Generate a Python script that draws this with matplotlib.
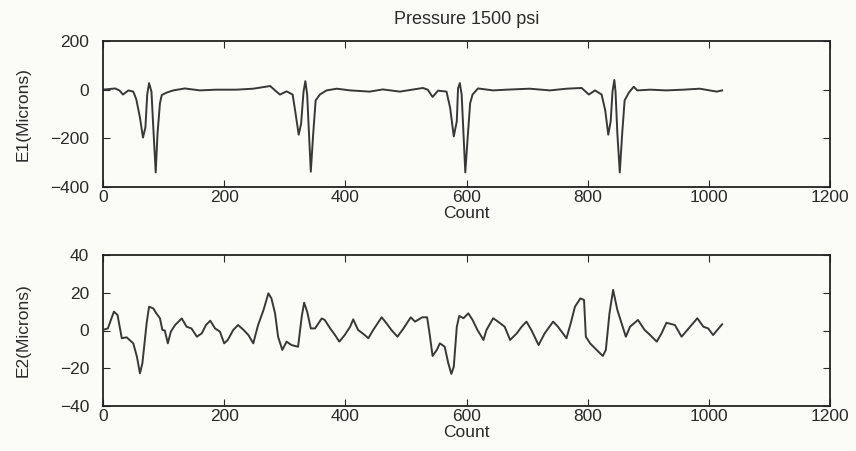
import numpy as np
import matplotlib
matplotlib.use("Agg")
import matplotlib.pyplot as plt

plt.rcParams['font.family'] = ['Liberation Sans', 'DejaVu Sans']

# E1 trace
e1_count = [0, 20, 27, 33, 42, 50, 55, 61, 66, 70, 73, 76, 80, 83, 87, 90, 94, 97,
            105, 116, 135, 160, 187, 220, 248, 276, 284, 292, 303, 313, 318, 323,
            327, 331, 334, 337, 340, 343, 347, 351, 358, 369, 386, 408, 440, 462,
            490, 528, 536, 544, 553, 567, 573, 579, 584, 586, 589, 592, 595, 598,
            602, 606, 610, 619, 644, 666, 704, 738, 765, 790, 802, 812, 823, 829,
            834, 838, 841, 844, 846, 849, 853, 857, 861, 868, 876, 882, 903, 930,
            958, 985, 1013, 1022]
e1_val = [0, 5, -3, -20, -3, -8, -40, -115, -197, -155, -20, 27, -8, -155, -340,
          -180, -56, -22, -12, -3, 5, -3, 0, 0, 4, 15, -3, -20, -7, -20, -100,
          -185, -140, -8, 35, -20, -180, -337, -180, -44, -20, -3, 4, -3, -8, 1,
          -8, 7, 0, -30, -4, -8, -75, -192, -130, 4, 27, -20, -180, -340, -195,
          -56, -20, 5, -3, 0, 4, -3, 4, 7, -20, -3, -20, -85, -185, -130, -8, 40,
          -8, -180, -340, -180, -44, -12, 12, -3, 0, -3, 0, 4, -8, -3]

# E2 trace
e2_count = [3, 8, 18, 24, 31, 39, 50, 56, 61, 65, 72, 76, 83, 88, 94, 98, 102, 107,
            112, 119, 130, 138, 146, 155, 163, 170, 177, 185, 193, 200, 206, 215,
            223, 232, 240, 248, 256, 265, 273, 278, 284, 289, 296, 303, 311, 322,
            328, 332, 337, 343, 350, 361, 366, 375, 383, 390, 399, 408, 413, 421,
            432, 438, 446, 460, 468, 476, 486, 496, 508, 515, 527, 535, 539, 544,
            551, 556, 564, 570, 575, 579, 584, 588, 595, 603, 610, 618, 628, 633,
            644, 652, 663, 672, 683, 691, 699, 707, 719, 729, 743, 751, 765, 772,
            779, 788, 794, 797, 804, 812, 825, 830, 836, 842, 849, 856, 863, 870,
            883, 894, 903, 914, 922, 930, 944, 955, 969, 981, 991, 999, 1007, 1014,
            1022]
e2_val = [0.6, 1.1, 10, 8.2, -4.1, -3.6, -6.8, -13.9, -22.7, -17.4, 3.8, 12.6,
          11.7, 9.1, 6.5, 0.3, 0, -6.8, -0.6, 2.9, 6.4, 2, 1.1, -3.3, -1.5, 2.9,
          5.2, 1.1, -0.6, -6.8, -5, 0.3, 2.9, 0.3, -2.4, -6.8, 2.9, 10.9, 19.7, 17,
          9.1, -3.3, -10.3, -5.9, -7.7, -8.6, 7.3, 14.7, 10, 1.1, 1.1, 6.4, 5.6,
          1.1, -2.4, -5.9, -2.4, 2, 5.9, 0.3, -2.4, -4.1, 0.3, 7, 3.8, 0.3, -3.3,
          1.1, 7, 4.7, 7, 7, -1.5, -13.5, -10.3, -6.8, -8.6, -17.4, -23, -19.2, 2,
          7.7, 6.5, 9.1, 5.6, 0.3, -5, 0.3, 6.5, 4.7, 2, -5, -1.5, 2, 4.7, 0.3,
          -7.7, -1.5, 4.7, 2, -4.1, 3.8, 12.6, 17, 16.2, -3.3, -6.8, -9.4, -13.5,
          -10.3, 9.1, 21.5, 10.9, 3.8, -3.3, 2, 5.6, 0.3, -2.4, -5.9, -1.5, 4.1,
          2.9, -3.3, 2, 6.5, 2, 1.1, -2.4, 0.3, 3.3]

x_ticks = [0, 200, 400, 600, 800, 1000, 1200]
line_col = "#383838"
txt_col = "#2a2a2a"
bg = "#fbfbf7"

fig = plt.figure(figsize=(8.56, 4.51), dpi=100, facecolor=bg)
ax1 = fig.add_axes([103 / 856, 1 - 187 / 451, 727 / 856, 146 / 451])
ax2 = fig.add_axes([103 / 856, 1 - 406 / 451, 727 / 856, 151 / 451])

ax1.plot(e1_count, e1_val, color=line_col, lw=1.4)
ax2.plot(e2_count, e2_val, color=line_col, lw=1.4)

ax1.set_ylim(-400, 200)
ax1.set_yticks([-400, -200, 0, 200])
ax2.set_ylim(-40, 40)
ax2.set_yticks([-40, -20, 0, 20, 40])

for ax in (ax1, ax2):
    ax.set_facecolor(bg)
    ax.set_xlim(0, 1200)
    ax.set_xticks(x_ticks)
    ax.tick_params(direction="in", top=True, right=True, length=5,
                   labelsize=12.5, colors=txt_col)
    ax.tick_params(axis="y", pad=10)
    ax.tick_params(axis="x", pad=2)
    for s in ax.spines.values():
        s.set_linewidth(1.3)
        s.set_color("#222222")
    ax.set_xlabel("Count", fontsize=12.5, labelpad=1, color=txt_col)

ax1.set_ylabel("E1(Microns)", fontsize=12.5, color=txt_col)
ax2.set_ylabel("E2(Microns)", fontsize=12.5, color=txt_col)
ax1.yaxis.set_label_coords(-0.1, 0.5)
ax2.yaxis.set_label_coords(-0.1, 0.5)
ax1.set_title("Pressure 1500 psi", fontsize=13, color=txt_col, pad=12)

fig.savefig("out.png", dpi=100, facecolor=bg)
